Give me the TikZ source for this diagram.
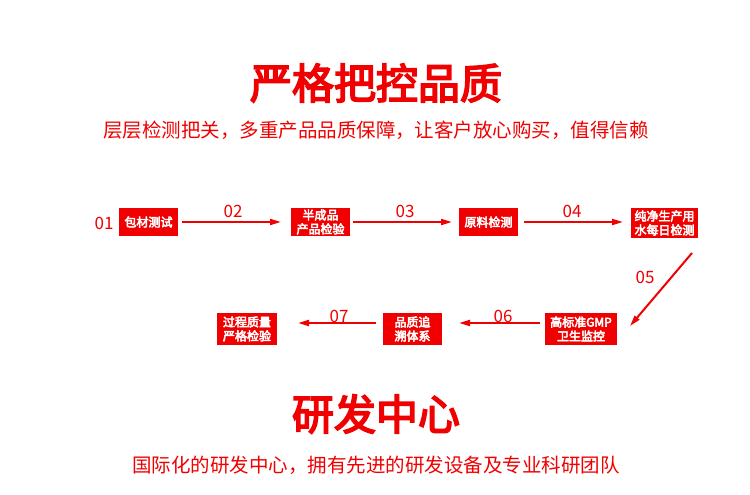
\documentclass[tikz,border=0pt]{standalone}
\usepackage{fontspec}
\setmainfont{Noto Sans CJK SC}[AutoFakeBold=4]
\usetikzlibrary{arrows.meta}
\definecolor{rd}{HTML}{F00000}
\tikzset{
 box/.style={fill=rd,text=white,font=\fontsize{12}{14}\selectfont\bfseries,align=center,inner sep=1pt,minimum height=28pt},
 arr/.style={draw=rd,line width=2pt,-{Triangle[length=11pt,width=6pt]}},
 num/.style={text=rd,font=\fontsize{17}{17}\selectfont}
}
\begin{document}
\begin{tikzpicture}[x=1pt,y=-1pt]
\useasboundingbox[fill=white] (0,0) rectangle (750,495);
\node[text=rd,font=\fontsize{42}{44}\selectfont\bfseries] (t1) at (376,83) {严格把控品质};
\node[text=rd,font=\fontsize{19.5}{20}\selectfont] (s1) at (376,130) {层层检测把关，多重产品品质保障，让客户放心购买，值得信赖};
\node[text=rd,font=\fontsize{42}{44}\selectfont\bfseries] (t2) at (376,414) {研发中心};
\node[text=rd,font=\fontsize{19.5}{20}\selectfont] (s2) at (376,465) {国际化的研发中心，拥有先进的研发设备及专业科研团队};
\node[box,minimum width=59pt] (b1) at (148.5,222) {包材测试};
\node[box,minimum width=59pt] (b2) at (320.5,222) {半成品\\产品检验};
\node[box,minimum width=59pt] (b3) at (488.5,222) {原料检测};
\node[box,minimum width=67pt,minimum height=30pt] (b4) at (664.5,223) {纯净生产用\\水每日检测};
\node[box,minimum width=72pt,minimum height=32pt] (b5) at (581,329) {高标准GMP\\卫生监控};
\node[box,minimum width=59pt,minimum height=32pt] (b6) at (412.5,329) {品质追\\溯体系};
\node[box,minimum width=60pt,minimum height=32pt] (b7) at (247,329) {过程质量\\严格检验};
\node[num] (n1) at (104,223) {01};
\coordinate (a2s) at (182,222); \coordinate (a2e) at (281,222);
\coordinate (a3s) at (353,222); \coordinate (a3e) at (452,222);
\coordinate (a4s) at (524,222); \coordinate (a4e) at (623,222);
\coordinate (a5s) at (692,253); \coordinate (a5e) at (630,326);
\coordinate (a6s) at (540,323); \coordinate (a6e) at (459,323);
\coordinate (a7s) at (376,323); \coordinate (a7e) at (298,323);
\draw[arr] (a2s) -- (a2e); \node[num] (n2) at (233,211) {02};
\draw[arr] (a3s) -- (a3e); \node[num] (n3) at (405,211) {03};
\draw[arr] (a4s) -- (a4e); \node[num] (n4) at (572,211) {04};
\draw[arr] (a5s) -- (a5e); \node[num] (n5) at (645,277) {05};
\draw[arr] (a6s) -- (a6e); \node[num] (n6) at (503,316) {06};
\draw[arr] (a7s) -- (a7e); \node[num] (n7) at (339,316) {07};
\end{tikzpicture}
\end{document}
